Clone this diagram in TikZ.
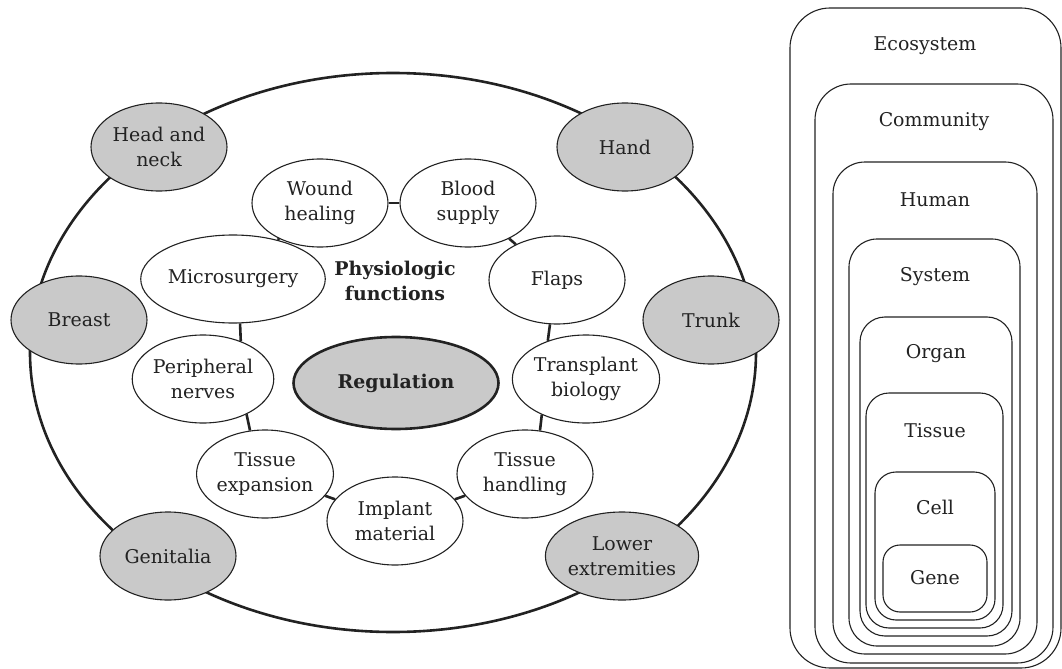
\documentclass[tikz,border=0pt]{standalone}
\usepackage{fontspec}
\setmainfont{DejaVu Serif}
\usepackage{tikz}
\usetikzlibrary{positioning,shapes.geometric}

\definecolor{ink}{HTML}{222222}
\definecolor{shade}{HTML}{C9C9C9}

\begin{document}
\begin{tikzpicture}[x=1bp, y=-1bp, font=\fontsize{19}{25}\selectfont,
    main/.style = {draw=ink, ellipse, fill=white, line width=1.1bp, minimum width=136bp,
                   minimum height=88bp, inner sep=0pt, align=center, text=ink},
    region/.style = {main, fill=shade},
    link/.style = {draw=ink, line width=2.6bp},
    level/.style = {draw=ink, line width=1.1bp},
    tag/.style = {text=ink, inner sep=0pt}]
      \useasboundingbox (0,0) rectangle (1062,669);

      %% outer ring with the body regions
      \draw[link] (393,352.5) ellipse [x radius=363, y radius=279.5];
      \node[region] (head) at (159,147) {Head and\\neck};
      \node[region] (hand) at (625,147) {Hand};
      \node[region] (breast) at (79,320) {Breast};
      \node[region] (trunk) at (711,320) {Trunk};
      \node[region] (genit) at (168,556) {Genitalia};
      \node[region] (lower) at (622,556) {Lower\\extremities};

      %% inner ring of topics
      \node[main] (wound) at (320,203) {Wound\\healing};
      \node[main] (blood) at (468,203) {Blood\\supply};
      \node[main] (flaps) at (557,280) {Flaps};
      \node[main] (transp) at (586,379) {Transplant\\biology};
      \node[main] (handl) at (525,474) {Tissue\\handling};
      \node[main] (implant) at (395,521) {Implant\\material};
      \node[main] (expan) at (265,474) {Tissue\\expansion};
      \node[main] (nerves) at (203,379) {Peripheral\\nerves};
      \node[main] (micro) at (233,279) {Microsurgery};
      \draw[link] (wound) -- (blood);
      \draw[link] (blood) -- (flaps);
      \draw[link] (flaps.-99) -- (transp.135);
      \draw[link] (transp.-141) -- (handl.71);
      \draw[link] (handl) -- (implant);
      \draw[link] (implant) -- (expan);
      \draw[link] (expan.109) -- (nerves.-39);
      \draw[link] (nerves.45) -- (micro.-81);
      \draw[link] (micro) -- (wound);

      %% centre
      \node[tag, align=center, font=\fontsize{19}{25}\selectfont\bfseries] (phys) at (395,281) {Physiologic\\functions};
      \node[region, line width=2.6bp, minimum width=205bp, minimum height=92bp, font=\fontsize{19}{25}\selectfont\bfseries] (reg) at (396,383) {Regulation};

      %% nested levels, outermost first
      \draw[level, rounded corners=40bp] (790,8) rectangle (1061,668);
      \draw[level, rounded corners=36bp] (815,84) rectangle (1053,663);
      \draw[level, rounded corners=32bp] (833,162) rectangle (1037,654);
      \draw[level, rounded corners=28bp] (849,239) rectangle (1020,646);
      \draw[level, rounded corners=25bp] (860,317) rectangle (1012,636);
      \draw[level, rounded corners=23bp] (866,393) rectangle (1003,628);
      \draw[level, rounded corners=21bp] (875,472) rectangle (995,620);
      \draw[level, rounded corners=17bp] (883,545) rectangle (987,612);
      \node[tag] (eco) at (925,46) {Ecosystem};
      \node[tag] (comm) at (934,122) {Community};
      \node[tag] (human) at (935,200) {Human};
      \node[tag] (system) at (935,277) {System};
      \node[tag] (organ) at (936,354) {Organ};
      \node[tag] (tissue) at (935,431) {Tissue};
      \node[tag] (cell) at (935,507) {Cell};
      \node[tag] (gene) at (935,578) {Gene};
\end{tikzpicture}
\end{document}
